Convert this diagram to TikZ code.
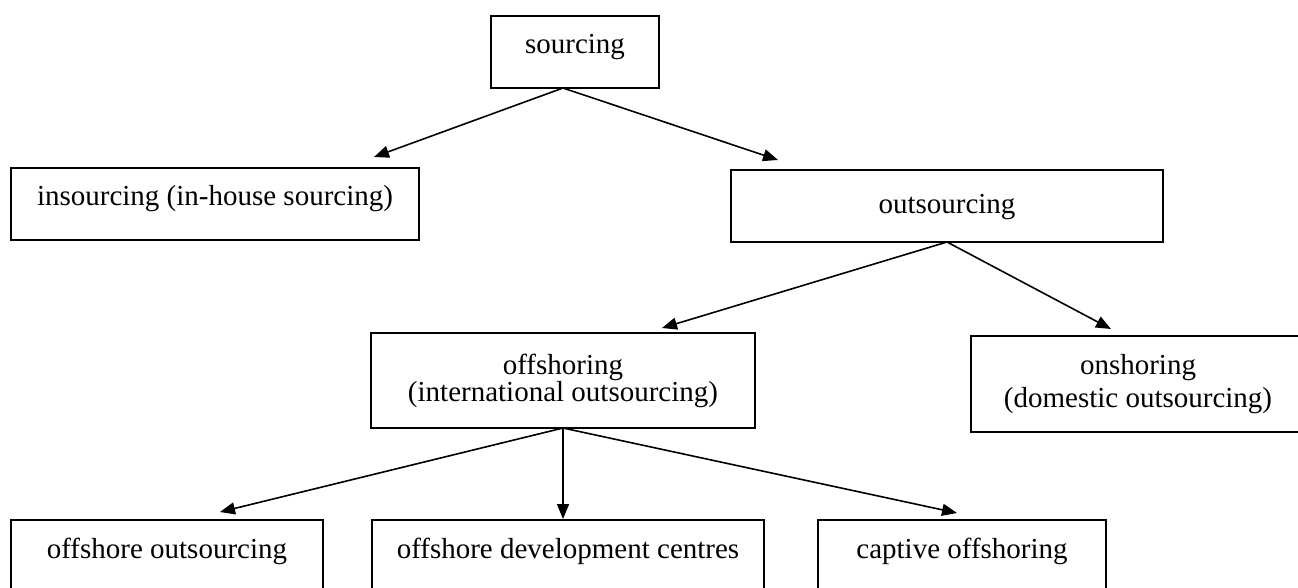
\documentclass[tikz,border=0pt]{standalone}
\usepackage{fontspec}
\setmainfont{Liberation Serif}
\usetikzlibrary{arrows.meta}
\begin{document}
\begin{tikzpicture}[x=1pt,y=-1pt,
  box/.style={draw,line width=2pt,inner sep=0pt,outer sep=0pt,anchor=north west,
    font=\fontsize{29}{33}\selectfont},
  link/.style={line width=1.6pt,-{Triangle[length=15pt,width=12pt]}}]
\useasboundingbox (0,0) rectangle (1298,587);
\clip (0,0) rectangle (1298,587);

% boxes
\node[box,minimum width=168pt,text height=37pt,text depth=35pt] (src) at (491,16) {sourcing};
\node[box,minimum width=408pt,text height=37pt,text depth=35pt] (ins) at (11,168) {insourcing (in-house sourcing)};
\node[box,minimum width=432pt,text height=43pt,text depth=29pt] (outs) at (731,170) {outsourcing};
\node[box,minimum width=384pt,minimum height=95pt,align=center,
  font=\fontsize{29}{27}\selectfont] (off) at (371,333) {offshoring\\(international outsourcing)};
\node[box,minimum width=334pt,minimum height=96pt,align=center] (on) at (971,336) {onshoring\\(domestic outsourcing)};
\node[box,minimum width=312pt,text height=38pt,text depth=34pt] (oo) at (11,520) {offshore outsourcing};
\node[box,minimum width=392pt,text height=38pt,text depth=34pt] (odc) at (372,520) {offshore development centres};
\node[box,minimum width=288pt,text height=38pt,text depth=34pt] (cap) at (818,520) {captive offshoring};

% arrow tips
\coordinate (tIns) at (374,157);
\coordinate (tOuts) at (778,160);
\coordinate (tOff) at (662,328);
\coordinate (tOn) at (1111,329);
\coordinate (tOO) at (220,512);
\coordinate (tODC) at (563,519);
\coordinate (tCap) at (957,513);

% connectors
\draw[link] ([xshift=-12pt]src.south) -- (tIns);
\draw[link] ([xshift=-12pt]src.south) -- (tOuts);
\draw[link] (outs.south) -- (tOff);
\draw[link] (outs.south) -- (tOn);
\draw[link] (off.south) -- (tOO);
\draw[link] (off.south) -- (tODC);
\draw[link] (off.south) -- (tCap);
\end{tikzpicture}
\end{document}
